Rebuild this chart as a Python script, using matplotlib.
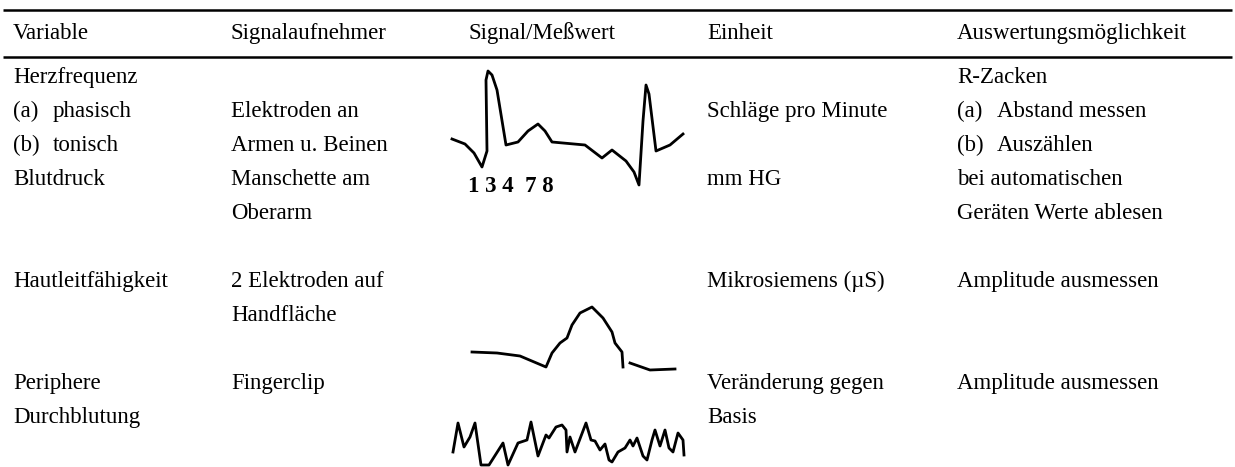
import matplotlib.pyplot as plt

plt.rcParams['font.family'] = ['Liberation Serif', 'DejaVu Serif']

W, H = 1235, 467
FS = 16.5

headers = ['Variable', 'Signalaufnehmer', 'Signal/Meßwert', 'Einheit', 'Auswertungsmöglichkeit']
col_x = [13, 231, 468, 707, 957]
sub_x = 40  # indent of text after "(a)"/"(b)"

# one entry per text line: (row index, column, text)
row_base = [83, 117, 151, 185, 219, 253, 287, 321, 355, 389, 423]
cells = [
    (0, 0, 'Herzfrequenz'),
    (1, 0, ('(a)', 'phasisch')),
    (2, 0, ('(b)', 'tonisch')),
    (1, 1, 'Elektroden an'),
    (2, 1, 'Armen u. Beinen'),
    (1, 3, 'Schläge pro Minute'),
    (0, 4, 'R-Zacken'),
    (1, 4, ('(a)', 'Abstand messen')),
    (2, 4, ('(b)', 'Auszählen')),
    (3, 0, 'Blutdruck'),
    (3, 1, 'Manschette am'),
    (4, 1, 'Oberarm'),
    (3, 3, 'mm HG'),
    (3, 4, 'bei automatischen'),
    (4, 4, 'Geräten Werte ablesen'),
    (6, 0, 'Hautleitfähigkeit'),
    (6, 1, '2 Elektroden auf'),
    (7, 1, 'Handfläche'),
    (6, 3, 'Mikrosiemens (µS)'),
    (6, 4, 'Amplitude ausmessen'),
    (9, 0, 'Periphere'),
    (10, 0, 'Durchblutung'),
    (9, 1, 'Fingerclip'),
    (9, 3, 'Veränderung gegen'),
    (10, 3, 'Basis'),
    (9, 4, 'Amplitude ausmessen'),
]
bp_value = '1 3 4  7 8'

# hand-drawn signal sketches
ecg_x = [452, 465, 474, 482, 487, 486, 488, 492, 497, 506, 518, 528, 538, 545, 552,
         585, 602, 612, 626, 634, 639, 643, 646, 649, 656, 670, 683]
ecg_y = [139, 144, 153, 167, 151, 80, 71, 75, 90, 145, 142, 131, 124, 131, 142,
         145, 158, 150, 161, 172, 185, 121, 85, 94, 151, 145, 134]

scr_x = [472, 497, 520, 546, 552, 560, 567, 572, 580, 592, 603, 612, 615, 622, 623]
scr_y = [352, 353, 356, 367, 353, 343, 338, 325, 313, 307, 318, 332, 343, 352, 367]
scr2_x = [630, 650, 675]
scr2_y = [363, 370, 369]

pulse_x = [453, 458, 464, 470, 475, 481, 489, 503, 508, 518, 527, 531, 538, 546, 549,
           556, 562, 566, 567, 570, 575, 586, 591, 595, 600, 605, 609, 612, 618, 625,
           630, 633, 637, 643, 647, 652, 655, 660, 665, 669, 673, 678, 683, 684]
pulse_y = [452, 423, 447, 437, 423, 465, 465, 443, 465, 443, 440, 422, 456, 435, 438,
           427, 425, 430, 452, 437, 452, 423, 440, 441, 450, 444, 460, 462, 452, 448,
           440, 446, 438, 456, 460, 440, 430, 446, 430, 448, 452, 433, 440, 455]

fig = plt.figure(figsize=(W / 100, H / 100), dpi=100)
ax = fig.add_axes([0, 0, 1, 1])
ax.set_xlim(0, W)
ax.set_ylim(H, 0)
ax.axis('off')

ax.plot([3, 1232], [10, 10], color='black', lw=1.8, solid_capstyle='butt')
ax.plot([3, 1232], [57, 57], color='black', lw=1.8, solid_capstyle='butt')

for x, h in zip(col_x, headers):
    ax.text(x, 39, h, fontsize=FS, va='baseline', ha='left')

for r, c, t in cells:
    y = row_base[r]
    if isinstance(t, tuple):
        ax.text(col_x[c], y, t[0], fontsize=FS, va='baseline')
        ax.text(col_x[c] + sub_x, y, t[1], fontsize=FS, va='baseline')
    else:
        ax.text(col_x[c], y, t, fontsize=FS, va='baseline')

ax.text(468, row_base[3] + 7, bp_value, fontsize=FS, fontweight='bold', va='baseline')

ax.plot(ecg_x, ecg_y, color='black', lw=2)
ax.plot(scr_x, scr_y, color='black', lw=2)
ax.plot(scr2_x, scr2_y, color='black', lw=2)
ax.plot(pulse_x, pulse_y, color='black', lw=2)

fig.savefig('out.png', dpi=100)
